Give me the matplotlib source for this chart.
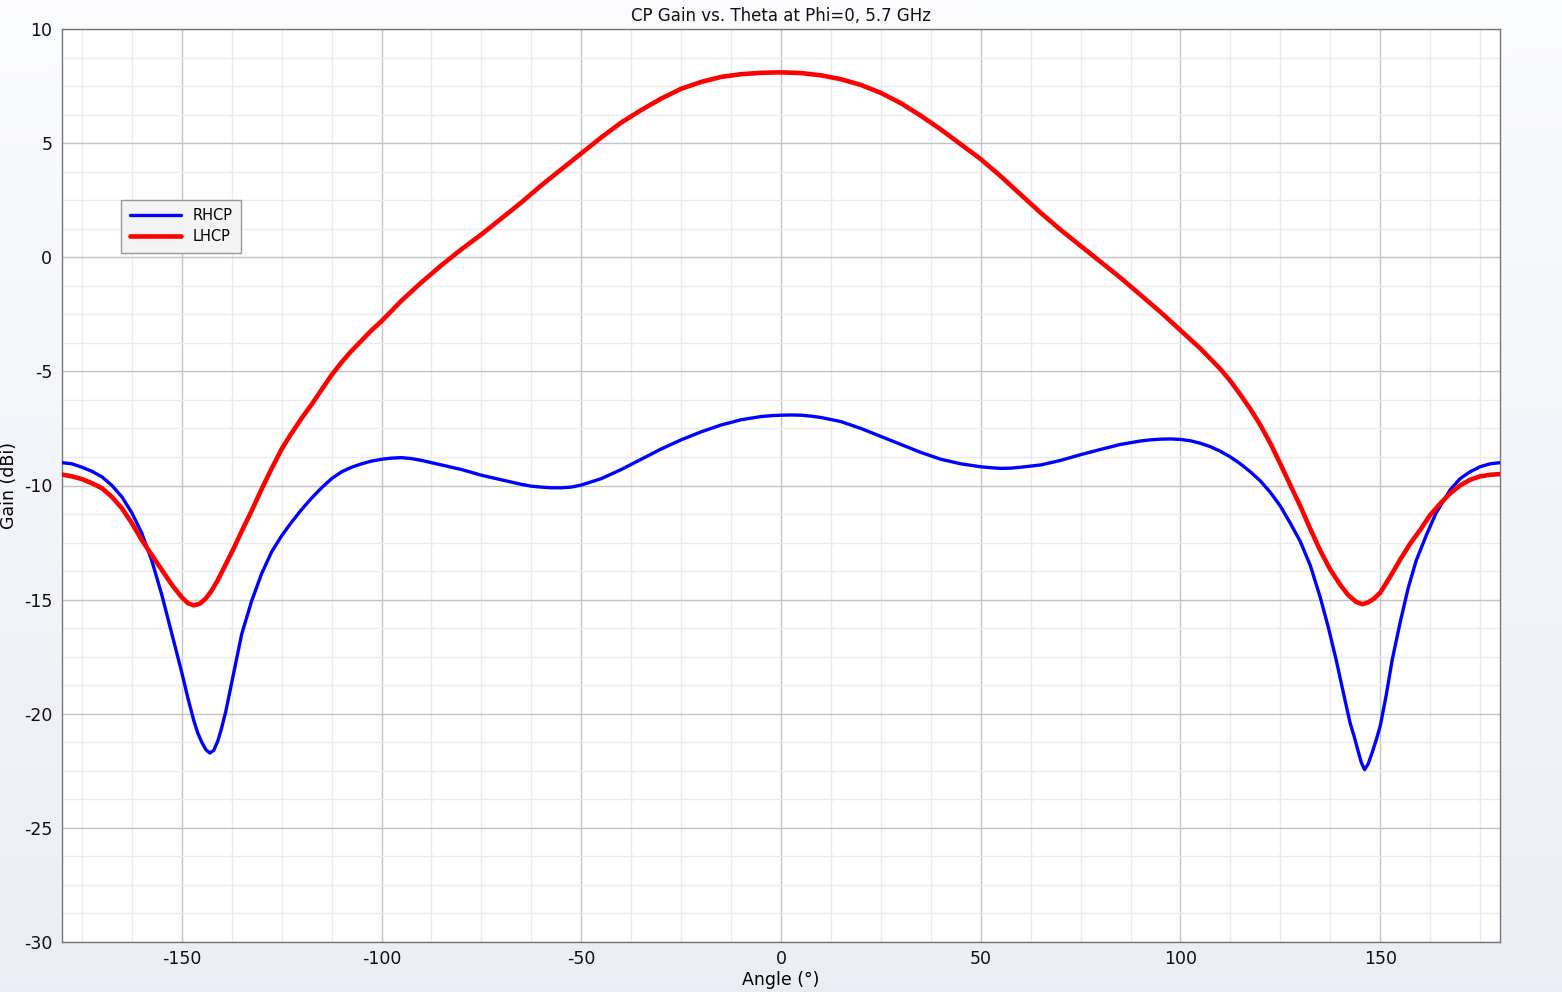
import numpy as np
import matplotlib
matplotlib.use("Agg")
import matplotlib.pyplot as plt
from matplotlib.ticker import MultipleLocator

plt.rcParams["axes.unicode_minus"] = False

# ---- data ----
rhcp_angle = [-180, -177.5, -175, -172.5, -170, -167.5, -165, -162.5, -160, -157.5, -155, -152.5,
              -150, -148.5, -147, -146, -145, -144, -143, -142, -141, -140, -139, -137, -135,
              -132.5, -130, -127.5, -125, -122.5, -120, -117.5, -115, -112.5, -110, -107.5, -105,
              -102.5, -100, -97.5, -95, -92.5, -90, -85, -80, -75, -70, -65, -62.5, -60, -57.5,
              -55, -52.5, -50, -45, -40, -35, -30, -25, -20, -15, -10, -5, -2.5, 0, 2.5, 5, 7.5,
              10, 15, 20, 25, 30, 35, 40, 45, 50, 52.5, 55, 57.5, 60, 65, 70, 75, 80, 85, 90,
              92.5, 95, 97.5, 100, 102.5, 105, 107.5, 110, 112.5, 115, 117.5, 120, 122.5, 125,
              127.5, 130, 132.5, 135, 137, 139, 141, 142.5, 143.5, 144.5, 145.3, 146.1, 147, 148,
              149, 150, 151.5, 153, 155, 157, 159, 161.5, 164, 167.5, 170, 172.5, 175, 177.5, 180]
rhcp_gain = [-9.0, -9.05, -9.2, -9.38, -9.62, -10.0, -10.5, -11.2, -12.1, -13.3, -14.8, -16.5,
             -18.2, -19.3, -20.3, -20.85, -21.25, -21.57, -21.72, -21.6, -21.2, -20.6, -19.9,
             -18.2, -16.5, -15.05, -13.85, -12.9, -12.2, -11.6, -11.05, -10.55, -10.1, -9.7,
             -9.4, -9.2, -9.05, -8.93, -8.85, -8.8, -8.78, -8.82, -8.9, -9.1, -9.3, -9.55, -9.75,
             -9.95, -10.03, -10.07, -10.1, -10.1, -10.07, -9.98, -9.7, -9.3, -8.85, -8.4, -8.0,
             -7.65, -7.35, -7.12, -6.98, -6.94, -6.92, -6.91, -6.92, -6.96, -7.02, -7.2, -7.5,
             -7.85, -8.2, -8.55, -8.85, -9.05, -9.18, -9.22, -9.25, -9.24, -9.2, -9.1, -8.9,
             -8.65, -8.42, -8.2, -8.05, -8.0, -7.97, -7.96, -7.98, -8.04, -8.15, -8.3, -8.5,
             -8.75, -9.05, -9.4, -9.8, -10.3, -10.9, -11.65, -12.45, -13.5, -14.9, -16.2, -17.65,
             -19.25, -20.42, -21.0, -21.65, -22.15, -22.45, -22.2, -21.7, -21.15, -20.55, -19.2,
             -17.65, -16.0, -14.5, -13.3, -12.2, -11.2, -10.2, -9.7, -9.4, -9.18, -9.05, -9.0]

lhcp_angle = [-180, -177.5, -175, -172.5, -170, -167.5, -165, -162.5, -160, -157.5, -155, -152.5,
              -150, -148.5, -147, -145.5, -144, -142.5, -141, -139, -137, -135, -132.5, -130,
              -127.5, -125, -122.5, -120, -117.5, -115, -112.5, -110, -107.5, -105, -102.5, -100,
              -95, -90, -85, -80, -75, -70, -65, -60, -55, -50, -45, -40, -35, -30, -25, -20, -15,
              -10, -5, 0, 5, 10, 15, 20, 25, 30, 35, 40, 45, 50, 55, 60, 65, 70, 75, 80, 85, 90,
              95, 100, 105, 110, 112.5, 115, 117.5, 120, 122.5, 125, 127.5, 130,
              132.5, 135, 137.5, 140, 142, 144, 145.5, 147, 148.5, 150, 152.5, 155, 157.5, 160,
              162.5, 165, 167.5, 170, 172.5, 175, 177.5, 180]
lhcp_gain = [-9.52, -9.6, -9.72, -9.9, -10.12, -10.5, -11.0, -11.65, -12.4, -13.05, -13.7, -14.35,
             -14.9, -15.15, -15.25, -15.18, -14.95, -14.6, -14.15, -13.45, -12.75, -12.0, -11.1,
             -10.15, -9.25, -8.4, -7.7, -7.05, -6.45, -5.8, -5.16, -4.6, -4.1, -3.65, -3.2, -2.8,
             -1.9, -1.1, -0.35, 0.35, 1.0, 1.7, 2.4, 3.15, 3.85, 4.55, 5.25, 5.9, 6.45, 6.95,
             7.38, 7.68, 7.9, 8.02, 8.08, 8.1, 8.07, 7.97, 7.8, 7.55, 7.2, 6.75, 6.2, 5.6, 4.95,
             4.3, 3.55, 2.75, 1.95, 1.2, 0.5, -0.2, -0.9, -1.65, -2.4, -3.2, -4.0, -4.9, -5.42,
             -6.02, -6.65, -7.35, -8.15, -9.05, -9.98, -10.9, -11.9, -12.85, -13.68, -14.35, -14.8,
             -15.1, -15.2, -15.12, -14.95, -14.7, -14.0, -13.25, -12.55, -11.95, -11.3, -10.8,
             -10.35, -10.0, -9.75, -9.6, -9.53, -9.5]

series_labels = ["RHCP", "LHCP"]
x_ticks = [-150, -100, -50, 0, 50, 100, 150]
y_ticks = [-30, -25, -20, -15, -10, -5, 0, 5, 10]
title = "CP Gain vs. Theta at Phi=0, 5.7 GHz"
xlabel = "Angle (°)"
ylabel = "Gain (dBi)"

# ---- figure ----
fig = plt.figure(figsize=(15.62, 9.92), dpi=100)

# background gradient
bg = fig.add_axes([0, 0, 1, 1], zorder=-10)
grad = np.linspace(0, 1, 256).reshape(-1, 1)
top = np.array([0.985, 0.988, 0.995])
bot = np.array([0.925, 0.933, 0.965])
img = top[None, None, :] * (1 - grad[:, :, None]) + bot[None, None, :] * grad[:, :, None]
gx = np.linspace(0, 1, 64).reshape(1, -1, 1)
img = img * (1 - 0.02 * gx) + 0.02 * gx * np.array([0.93, 0.94, 0.97])
bg.imshow(img, aspect="auto", extent=[0, 1, 0, 1])
bg.axis("off")

ax = fig.add_axes([62 / 1562, 1 - 942 / 992, (1500 - 62) / 1562, (942 - 29) / 992])
ax.set_facecolor("white")

ax.plot(rhcp_angle, rhcp_gain, color="#0000ff", lw=2.4, label=series_labels[0], zorder=3,
        solid_joinstyle="round", solid_capstyle="round")
ax.plot(lhcp_angle, lhcp_gain, color="#ff0000", lw=3.3, label=series_labels[1], zorder=3,
        solid_joinstyle="round", solid_capstyle="round")

ax.set_xlim(-180, 180)
ax.set_ylim(-30, 10)
ax.set_xticks(x_ticks)
ax.set_yticks(y_ticks)
ax.xaxis.set_minor_locator(MultipleLocator(12.5))
ax.yaxis.set_minor_locator(MultipleLocator(1.25))
ax.grid(which="major", color="#c4c4c4", lw=1.0)
ax.grid(which="minor", color="#ebebeb", lw=1.0)
ax.set_axisbelow(True)
ax.tick_params(which="both", length=0, labelsize=12.5, colors="#111111")
ax.tick_params(axis="y", pad=7)
ax.tick_params(axis="x", pad=6)

for s in ax.spines.values():
    s.set_color("#777777")
    s.set_linewidth(1.0)

ax.set_title(title, fontsize=12, pad=6, color="#111111")
ax.set_xlabel(xlabel, fontsize=12.5, labelpad=2)
ax.set_ylabel(ylabel, fontsize=12.5, labelpad=4)

leg = ax.legend(loc="upper left", bbox_to_anchor=(0.036, 0.821), fontsize=10.5,
                frameon=True, fancybox=False, handlelength=3.5, borderpad=0.6,
                labelspacing=0.4, handletextpad=0.8)
leg.get_frame().set_facecolor("#f4f4f4")
leg.get_frame().set_edgecolor("#999999")
leg.get_frame().set_linewidth(1.0)
leg.get_frame().set_alpha(1)

fig.savefig("out.png", dpi=100)
